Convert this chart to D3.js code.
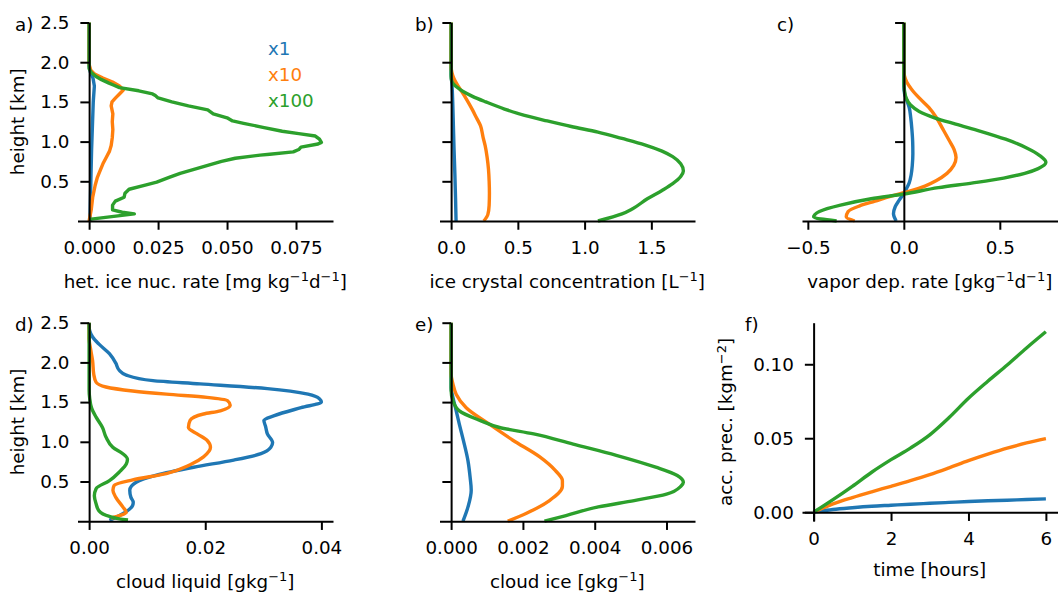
<!DOCTYPE html>
<html>
<head>
<meta charset="utf-8">
<script src="https://cdn.jsdelivr.net/npm/d3@7"></script>
<style>
  body { margin: 0; background: #fff; }
  svg { display: block; }
  text { font-family: "DejaVu Sans", sans-serif; fill: #000; }
</style>
</head>
<body>
<svg id="fig" width="1058" height="592"></svg>
<script>
// ---- profile data: [value, height km] ----
// a) heterogeneous ice nucleation rate [mg kg-1 d-1]
const nucX1 = [[0.0003,0.0],[0.0005,0.3],[0.0007,0.6],[0.0009,0.9],[0.0012,1.2],[0.0015,1.5],[0.0019,1.7],[0.0014,1.8],[0.0004,1.88],[0,1.95],[0,2.5]];
const nucX10 = [[0.0000,0.0],[0.0008,0.15],[0.0013,0.3],[0.0022,0.45],[0.0030,0.55],[0.0038,0.62],[0.0050,0.72],[0.0062,0.8],[0.0074,0.88],[0.0080,0.95],[0.0084,1.05],[0.0086,1.15],[0.0084,1.25],[0.0086,1.35],[0.0080,1.45],[0.0083,1.5],[0.0096,1.55],[0.0110,1.6],[0.0124,1.65],[0.0110,1.7],[0.0085,1.75],[0.0050,1.8],[0.0020,1.85],[0.0006,1.9],[0,1.97],[0,2.5]];
const nucX100 = [[0,0.02],[0.0164,0.09],[0.0120,0.11],[0.0085,0.14],[0.0085,0.2],[0.0095,0.25],[0.0127,0.3],[0.0130,0.35],[0.0145,0.4],[0.0200,0.45],[0.0245,0.49],[0.0290,0.55],[0.0330,0.6],[0.0380,0.65],[0.0430,0.7],[0.0480,0.75],[0.0530,0.79],[0.0620,0.83],[0.0655,0.84],[0.0740,0.87],[0.0760,0.9],[0.0768,0.93],[0.0830,0.97],[0.0842,0.99],[0.0835,1.03],[0.0820,1.07],[0.0760,1.1],[0.0700,1.13],[0.0630,1.18],[0.0560,1.23],[0.0520,1.26],[0.0500,1.3],[0.0450,1.35],[0.0430,1.4],[0.0360,1.45],[0.0300,1.5],[0.0250,1.55],[0.0240,1.58],[0.0230,1.6],[0.0180,1.64],[0.0110,1.68],[0.0090,1.71],[0.0070,1.74],[0.0045,1.78],[0.0025,1.82],[0.0008,1.87],[0,1.92],[0,2.5]];

// b) ice crystal concentration [L-1]
const iccX1 = [[0.037,0],[0.033,0.3],[0.028,0.6],[0.022,0.9],[0.017,1.2],[0.012,1.5],[0.007,1.7],[0.002,1.8],[0,1.85],[0,2.5]];
const iccX10 = [[0.245,0],[0.275,0.08],[0.285,0.2],[0.287,0.35],[0.285,0.5],[0.28,0.65],[0.27,0.8],[0.255,0.95],[0.24,1.05],[0.22,1.2],[0.19,1.3],[0.16,1.4],[0.12,1.52],[0.08,1.63],[0.045,1.72],[0.02,1.8],[0.006,1.87],[0,1.95],[0,2.5]];
const iccX100 = [[1.10,0],[1.28,0.09],[1.36,0.155],[1.47,0.28],[1.58,0.385],[1.66,0.47],[1.72,0.56],[1.74,0.63],[1.72,0.72],[1.66,0.81],[1.58,0.88],[1.45,0.96],[1.28,1.04],[1.10,1.12],[0.90,1.19],[0.72,1.26],[0.55,1.33],[0.40,1.41],[0.26,1.5],[0.16,1.57],[0.09,1.63],[0.04,1.69],[0.015,1.73],[0.004,1.77],[0,1.82],[0,2.5]];

// c) vapor deposition rate [g kg-1 d-1]
const depX1 = [[-0.04,0],[-0.054,0.09],[-0.045,0.18],[-0.025,0.26],[-0.005,0.33],[0.012,0.4],[0.028,0.48],[0.038,0.58],[0.044,0.7],[0.047,0.85],[0.046,1.0],[0.042,1.15],[0.036,1.3],[0.028,1.43],[0.015,1.52],[0.004,1.6],[0,1.7],[0,2.5]];
const depX10 = [[-0.256,0],[-0.30,0.05],[-0.29,0.12],[-0.23,0.19],[-0.15,0.25],[-0.07,0.31],[0.03,0.375],[0.11,0.44],[0.17,0.51],[0.225,0.6],[0.26,0.7],[0.272,0.8],[0.262,0.9],[0.235,1.02],[0.205,1.15],[0.17,1.3],[0.13,1.43],[0.08,1.55],[0.04,1.66],[0.015,1.75],[0.003,1.83],[0,1.9],[0,2.5]];
const depX100 = [[-0.35,0],[-0.47,0.05],[-0.44,0.12],[-0.33,0.2],[-0.17,0.28],[0.0,0.34],[0.18,0.42],[0.36,0.48],[0.52,0.54],[0.63,0.6],[0.70,0.66],[0.74,0.74],[0.71,0.82],[0.64,0.92],[0.53,1.03],[0.40,1.13],[0.27,1.22],[0.16,1.3],[0.08,1.38],[0.035,1.46],[0.012,1.55],[0.003,1.65],[0,1.75],[0,2.5]];

// d) cloud liquid [g kg-1]
const liqX1 = [[0.0035,0.01],[0.0064,0.12],[0.0075,0.2],[0.0076,0.24],[0.0072,0.3],[0.0070,0.39],[0.0081,0.49],[0.0116,0.58],[0.018,0.68],[0.0249,0.77],[0.0296,0.85],[0.0313,0.93],[0.0316,0.99],[0.0307,1.1],[0.0304,1.19],[0.0301,1.27],[0.0319,1.33],[0.0365,1.43],[0.0400,1.5],[0.0397,1.54],[0.0377,1.6],[0.0307,1.67],[0.0191,1.73],[0.011,1.77],[0.0064,1.84],[0.0052,1.9],[0.0046,1.99],[0.0035,2.11],[0.0017,2.23],[0.0006,2.32],[0.0001,2.4],[0,2.45],[0,2.5]];
const liqX10 = [[0.0038,0.04],[0.0052,0.07],[0.0064,0.11],[0.0058,0.18],[0.0046,0.3],[0.0041,0.39],[0.0043,0.45],[0.0075,0.52],[0.0133,0.6],[0.0174,0.71],[0.0197,0.81],[0.0209,0.93],[0.0203,1.02],[0.0186,1.1],[0.0171,1.18],[0.0174,1.27],[0.0197,1.35],[0.0226,1.39],[0.0243,1.46],[0.0238,1.52],[0.0203,1.56],[0.0133,1.6],[0.0075,1.64],[0.0029,1.69],[0.0012,1.75],[0.0008,1.85],[0.0006,2.02],[0.0003,2.15],[0,2.3],[0,2.5]];
const liqX100 = [[0.0067,0.015],[0.0052,0.03],[0.0035,0.06],[0.0017,0.13],[0.0012,0.22],[0.0009,0.32],[0.0012,0.41],[0.0035,0.51],[0.0052,0.62],[0.0064,0.72],[0.0066,0.78],[0.0058,0.85],[0.0041,0.93],[0.0029,1.06],[0.0023,1.18],[0.0012,1.31],[0.0004,1.43],[0.0001,1.55],[0,1.65],[0,2.5]];

// e) cloud ice [g kg-1]
const iceX1 = [[0.00033,0],[0.00047,0.18],[0.00056,0.39],[0.00053,0.55],[0.00047,0.76],[0.00034,1.02],[0.00023,1.22],[0.00012,1.43],[0.00005,1.56],[0,1.68],[0,2.5]];
const iceX10 = [[0.00158,0],[0.0021,0.1],[0.00274,0.26],[0.0031,0.44],[0.0031,0.51],[0.0029,0.64],[0.00247,0.81],[0.00172,1.02],[0.00107,1.22],[0.00042,1.43],[0.00014,1.6],[0.00005,1.73],[0,1.85],[0,2.5]];
const iceX100 = [[0.0026,0],[0.0032,0.07],[0.0041,0.18],[0.0051,0.26],[0.0060,0.34],[0.0064,0.44],[0.00647,0.49],[0.0063,0.575],[0.0057,0.68],[0.0046,0.83],[0.0034,0.97],[0.0023,1.1],[0.00135,1.18],[0.0008,1.27],[0.00023,1.39],[0.00005,1.52],[0,1.65],[0,2.5]];

// f) accumulated precipitation [kg m-2] vs time [hours]
const timeHours = [0,0.5,1,1.5,2,2.5,3,3.5,4,4.5,5,5.5,6];
const precX1 = [0,0.0018,0.0030,0.0040,0.0047,0.0054,0.0060,0.0066,0.0072,0.0077,0.0081,0.0086,0.0090];
const precX10 = [0,0.0056,0.0099,0.0138,0.0175,0.0213,0.0254,0.0300,0.0348,0.0392,0.0433,0.0468,0.0498];
const precX100 = [0,0.0085,0.0175,0.0270,0.0355,0.0433,0.0523,0.0640,0.0770,0.0885,0.0995,0.1110,0.1220];

// ---- ticks and labels ----
const seriesNames = ["x1", "x10", "x100"];
const seriesColors = ["#1f77b4", "#ff7f0e", "#2ca02c"];
const heightTicks = [0.5, 1.0, 1.5, 2.0, 2.5];
const nucTicks = [0, 0.025, 0.05, 0.075];
const iccTicks = [0, 0.5, 1.0, 1.5];
const depTicks = [-0.5, 0, 0.5];
const liqTicks = [0, 0.02, 0.04];
const iceTicks = [0, 0.002, 0.004, 0.006];
const timeTicks = [0, 2, 4, 6];
const precTicks = [0, 0.05, 0.10];

// ---- layout ----
const FS = 18.3, SUP = 13, TICK = 8.75, PAD = 11, LW = 3.4, SPINE = 2;
const axW = 255.5, axH = 198.5;
const colLeft = [77.5, 439.5, 802];
const rowTop = [22.5, 322.7];

const svg = d3.select("#fig");

function padded([lo, hi]) { const m = (hi - lo) * 0.05; return [lo - m, hi + m]; }

// text with superscript parts: strings starting with "^" are raised
function richText(sel, parts) {
  let raised = false;
  parts.forEach(p => {
    const sup = p.startsWith("^");
    const t = sel.append("tspan").text(sup ? p.slice(1) : p);
    if (sup) { t.attr("font-size", SUP); if (!raised) t.attr("dy", -6.5); }
    else if (raised) t.attr("dy", 6.5);
    raised = sup;
  });
}

function styleAxis(g) {
  g.selectAll("path.domain").attr("stroke", "#000").attr("stroke-width", SPINE);
  g.selectAll(".tick line").attr("stroke", "#000").attr("stroke-width", SPINE);
  g.selectAll(".tick text").attr("font-size", FS).attr("font-family", '"DejaVu Sans", sans-serif').attr("fill", "#000");
}

function drawPanel(cfg) {
  const left = colLeft[cfg.col], top = rowTop[cfg.row];
  const g = svg.append("g").attr("transform", `translate(${left},${top})`);
  const x = d3.scaleLinear().domain(cfg.xDomain).range([0, axW]);
  const y = d3.scaleLinear().domain(cfg.yDomain).range([axH, 0]);

  const line = d3.line().x(d => x(d[0])).y(d => y(d[1])).curve(cfg.curve);
  cfg.series.forEach((s, i) => {
    g.append("path").datum(s)
      .attr("fill", "none").attr("stroke", seriesColors[i])
      .attr("stroke-width", LW).attr("stroke-linejoin", "round")
      .attr("d", line);
  });

  // bottom axis sits on y = 0, left axis on x = 0
  const gx = g.append("g").attr("transform", `translate(0,${y(0)})`)
    .call(d3.axisBottom(x).tickValues(cfg.xTicks).tickFormat(d3.format(cfg.xFmt))
      .tickSize(TICK).tickSizeOuter(0).tickPadding(PAD));
  styleAxis(gx);
  const yAxis = d3.axisLeft(y).tickValues(cfg.yTicks).tickSize(TICK).tickSizeOuter(0).tickPadding(PAD)
    .tickFormat(cfg.yFmt ? d3.format(cfg.yFmt) : () => "");
  const gy = g.append("g").attr("transform", `translate(${x(0)},0)`).call(yAxis);
  styleAxis(gy);

  // axis titles
  const xl = svg.append("text").attr("text-anchor", "middle").attr("font-size", FS)
    .attr("x", left + axW / 2).attr("y", top + y(0) + cfg.xLabelOffset);
  richText(xl, cfg.xLabel);
  if (cfg.yLabel) {
    const yl = svg.append("text").attr("text-anchor", "middle").attr("font-size", FS)
      .attr("transform", `translate(${cfg.yLabelX},${top + axH / 2}) rotate(-90)`);
    richText(yl, cfg.yLabel);
  }
  // panel tag
  svg.append("text").attr("font-size", FS).attr("x", cfg.tagX).attr("y", top + 8.5).text(cfg.tag);
  return { g, x, y };
}

function profileDomain(series) {
  return padded(d3.extent(series.flat(), d => d[0]));
}

const heightLabel = ["height [km]"];
const profile = { yDomain: [0, 2.5], yTicks: heightTicks, curve: d3.curveMonotoneY, xLabelOffset: 66.5 };

drawPanel({ ...profile, col: 0, row: 0, series: [nucX1, nucX10, nucX100],
  curve: d3.curveLinear, xDomain: profileDomain([nucX1, nucX10, nucX100]), xTicks: nucTicks, xFmt: ".3f",
  yFmt: ".1f", yLabel: heightLabel, yLabelX: 24,
  xLabel: ["het. ice nuc. rate [mg kg", "^\u22121", "d", "^\u22121", "]"], tag: "a)", tagX: 15 });

drawPanel({ ...profile, col: 1, row: 0, series: [iccX1, iccX10, iccX100],
  xDomain: profileDomain([iccX1, iccX10, iccX100]), xTicks: iccTicks, xFmt: ".1f",
  xLabel: ["ice crystal concentration [L", "^\u22121", "]"], tag: "b)", tagX: 415 });

drawPanel({ ...profile, col: 2, row: 0, series: [depX1, depX10, depX100],
  xDomain: profileDomain([depX1, depX10, depX100]), xTicks: depTicks, xFmt: ".1f",
  xLabel: ["vapor dep. rate [gkg", "^\u22121", "d", "^\u22121", "]"], tag: "c)", tagX: 777 });

drawPanel({ ...profile, col: 0, row: 1, series: [liqX1, liqX10, liqX100],
  xDomain: profileDomain([liqX1, liqX10, liqX100]), xTicks: liqTicks, xFmt: ".2f",
  yFmt: ".1f", yLabel: heightLabel, yLabelX: 24,
  xLabel: ["cloud liquid [gkg", "^\u22121", "]"], tag: "d)", tagX: 15 });

drawPanel({ ...profile, col: 1, row: 1, series: [iceX1, iceX10, iceX100],
  xDomain: profileDomain([iceX1, iceX10, iceX100]), xTicks: iceTicks, xFmt: ".3f",
  xLabel: ["cloud ice [gkg", "^\u22121", "]"], tag: "e)", tagX: 415 });

const precSeries = [precX1, precX10, precX100].map(v => v.map((p, i) => [timeHours[i], p]));
drawPanel({ col: 2, row: 1, series: precSeries, curve: d3.curveMonotoneX,
  xDomain: padded(d3.extent(timeHours)), yDomain: padded(d3.extent(precSeries.flat(), d => d[1])),
  xTicks: timeTicks, xFmt: "d", yTicks: precTicks, yFmt: ".2f", xLabelOffset: 63.5,
  yLabel: ["acc. prec. [kgm", "^\u22122", "]"], yLabelX: 732,
  xLabel: ["time [hours]"], tag: "f)", tagX: 745 });

// series key: coloured labels only
seriesNames.forEach((name, i) => {
  svg.append("text").attr("font-size", FS).style("fill", seriesColors[i])
    .attr("x", 268).attr("y", 55 + i * 26).text(name);
});
</script>
</body>
</html>
